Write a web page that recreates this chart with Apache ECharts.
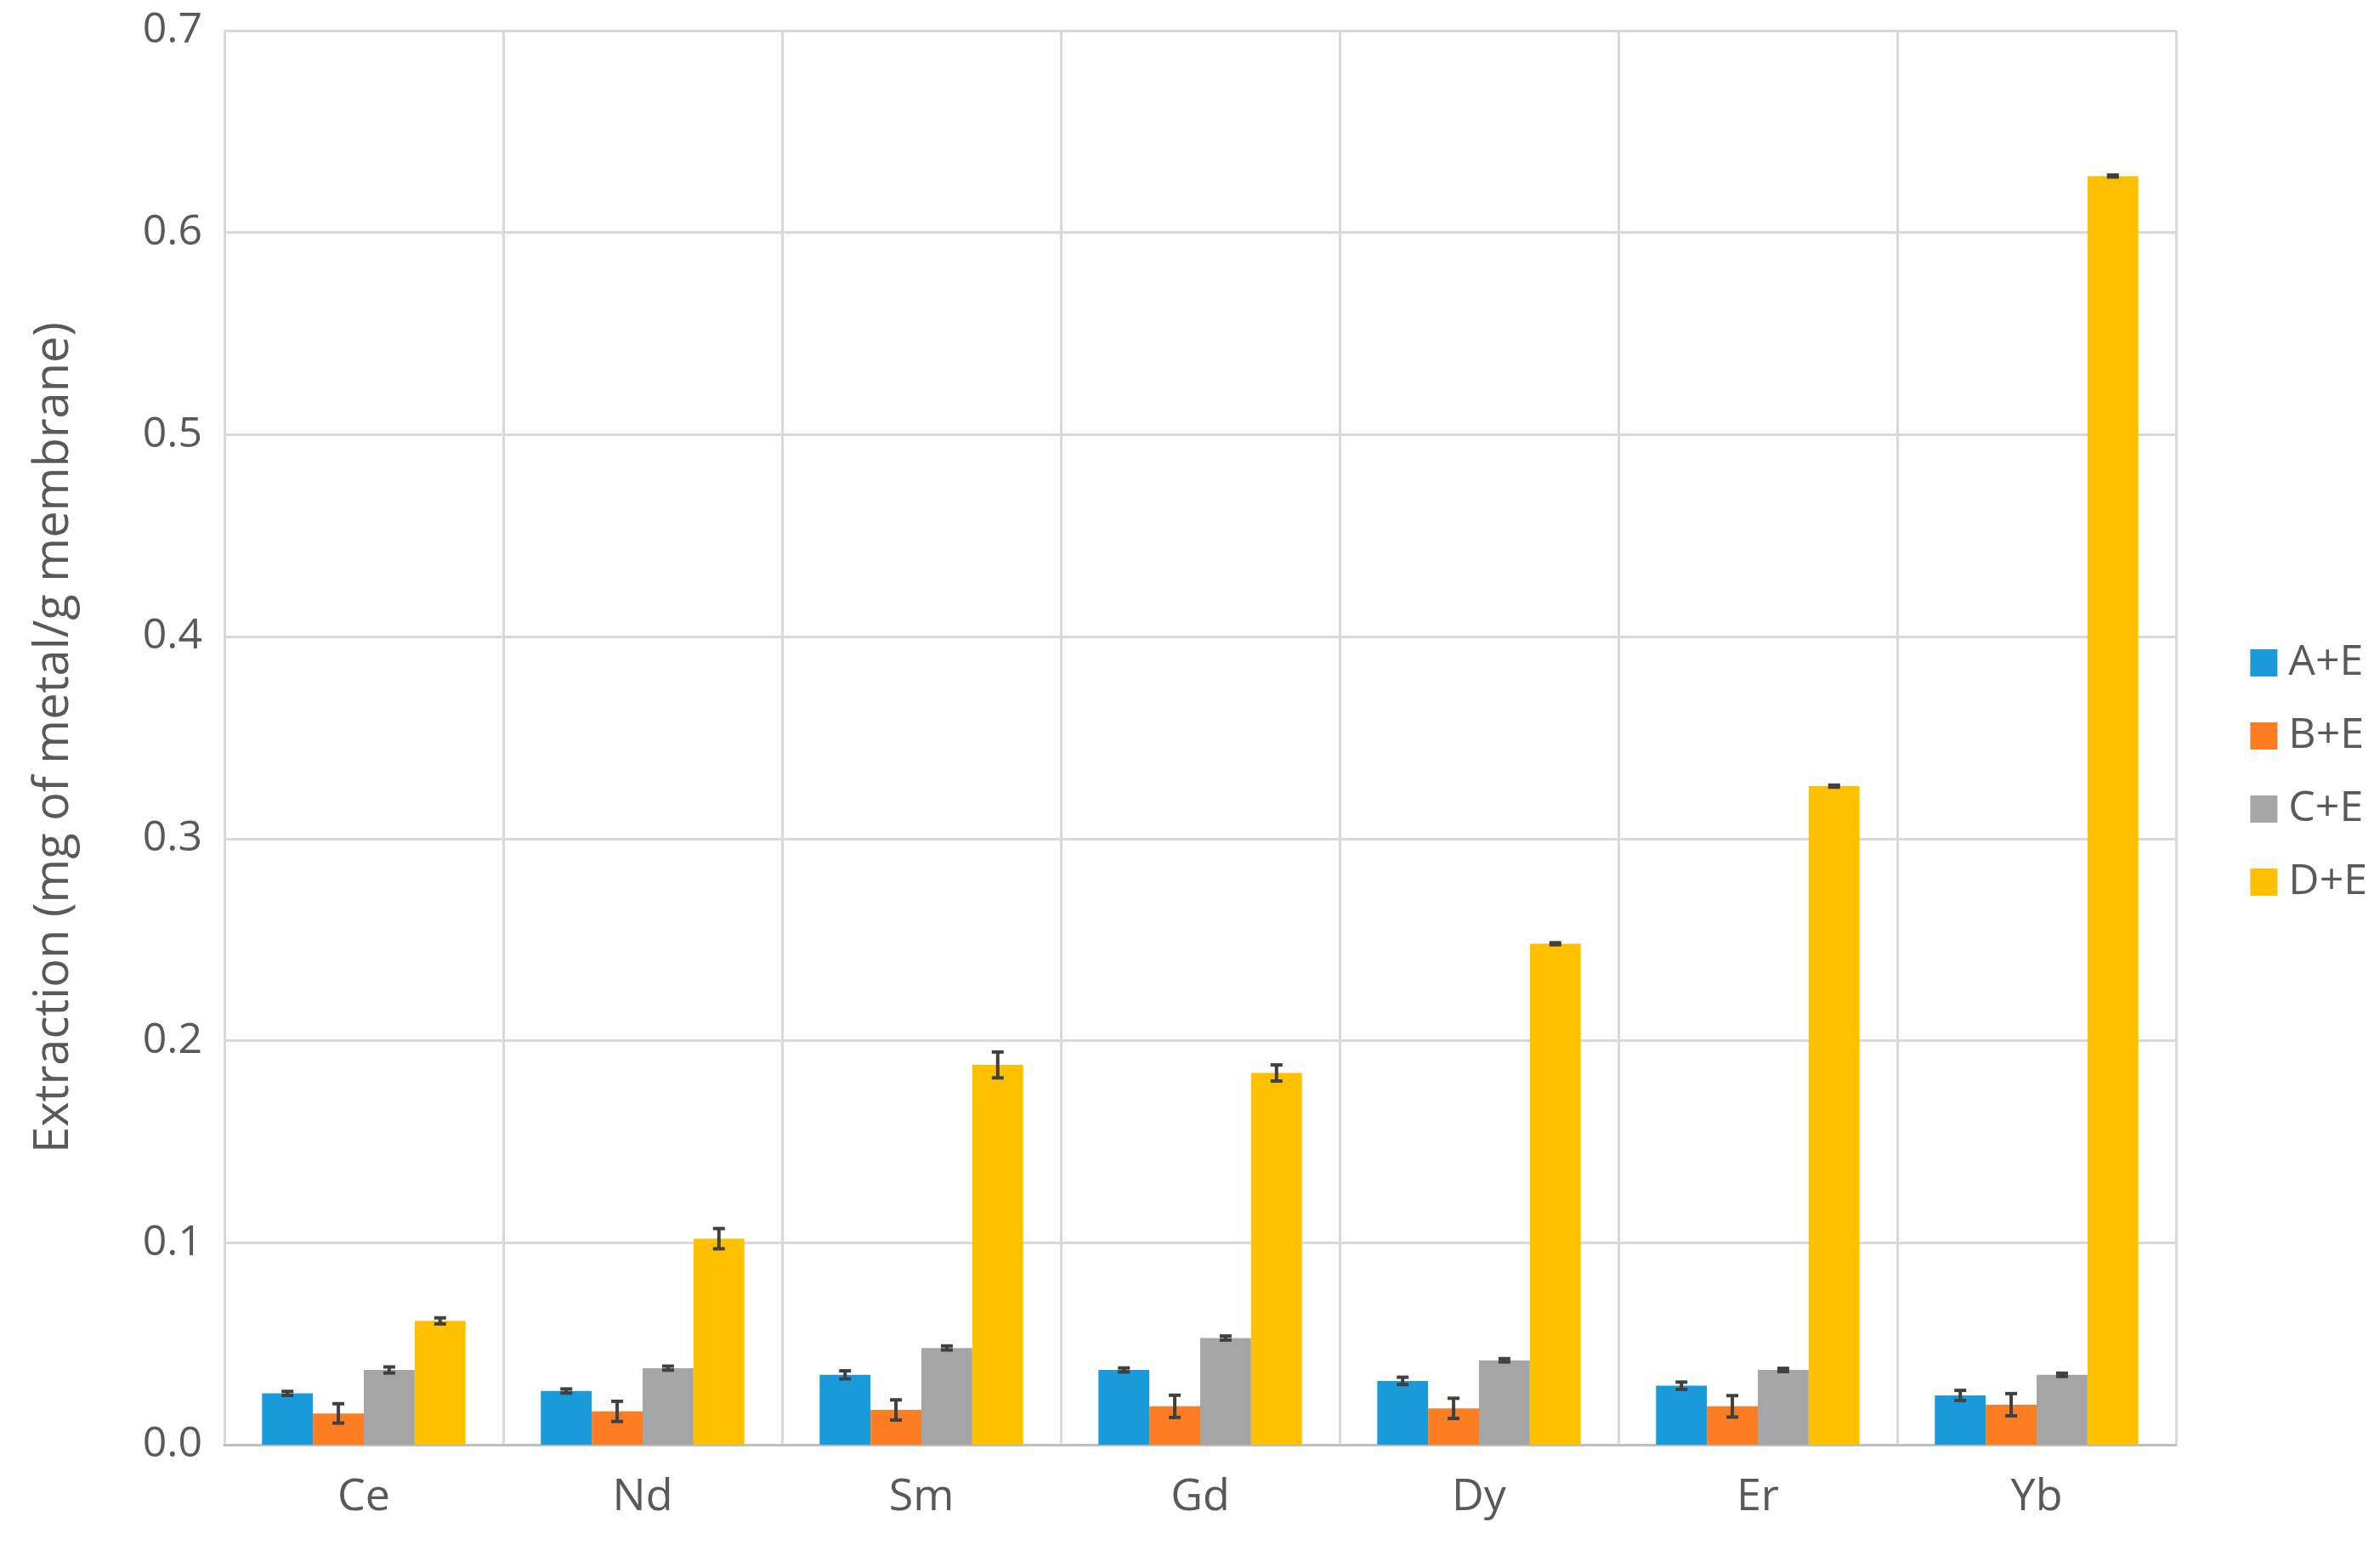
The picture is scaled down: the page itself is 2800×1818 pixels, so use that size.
<!DOCTYPE html>
<html>
<head>
<meta charset="utf-8">
<script src="https://cdn.jsdelivr.net/npm/echarts@6/dist/echarts.min.js"></script>
<style>
	html, body { margin: 0; padding: 0; background: #fff; }
	#chart { width: 2800px; height: 1818px; }
</style>
</head>
<body>
<div id="chart"></div>
<script>
'use strict'
var categories = ['Ce', 'Nd', 'Sm', 'Gd', 'Dy', 'Er', 'Yb'];
var seriesNames = ['A+E', 'B+E', 'C+E', 'D+E'];
var colors = ['#1a9ad9', '#fd7e22', '#a5a5a5', '#ffc000'];

var valuesA = [0.0254, 0.0266, 0.0346, 0.0370, 0.0316, 0.0292, 0.0244];
var valuesB = [0.0155, 0.0165, 0.0172, 0.0190, 0.0180, 0.0190, 0.0198];
var valuesC = [0.0370, 0.0379, 0.0479, 0.0528, 0.0418, 0.0370, 0.0346];
var valuesD = [0.0613, 0.1020, 0.1880, 0.1840, 0.2480, 0.3260, 0.6280];

var errA = [0.0010, 0.0010, 0.0020, 0.0010, 0.0018, 0.0018, 0.0025];
var errB = [0.0048, 0.0050, 0.0050, 0.0055, 0.0050, 0.0053, 0.0055];
var errC = [0.0015, 0.0010, 0.0010, 0.0010, 0.0008, 0.0008, 0.0008];
var errD = [0.0015, 0.0050, 0.0064, 0.0040, 0.0005, 0.0005, 0.0005];

var allValues = [valuesA, valuesB, valuesC, valuesD];
var allErrors = [errA, errB, errC, errD];
var categoryGap = 0.27;

var textColor = '#595959';
var fontFamily = 'Open Sans';

var series = [];
seriesNames.forEach(function (name, i) {
	series.push({
		name: name,
		type: 'bar',
		data: allValues[i],
		barGap: '0%',
		barCategoryGap: (categoryGap * 100) + '%',
		itemStyle: { color: colors[i] }
	});
});
seriesNames.forEach(function (name, i) {
	var errData = allValues[i].map(function (v, j) {
		return [j, v - allErrors[i][j], v + allErrors[i][j]];
	});
	series.push({
		type: 'custom',
		silent: true,
		z: 10,
		data: errData,
		renderItem: function (params, api) {
			var band = api.size([1, 0])[0];
			var barW = band * (1 - categoryGap) / 4;
			var offset = (i - 1.5) * barW;
			var lo = api.coord([api.value(0), api.value(1)]);
			var hi = api.coord([api.value(0), api.value(2)]);
			var x = lo[0] + offset;
			var cap = 7;
			var style = { stroke: '#404040', lineWidth: 4 };
			return {
				type: 'group',
				children: [
					{ type: 'line', shape: { x1: x, y1: lo[1], x2: x, y2: hi[1] }, style: style },
					{ type: 'line', shape: { x1: x - cap, y1: lo[1], x2: x + cap, y2: lo[1] }, style: style },
					{ type: 'line', shape: { x1: x - cap, y1: hi[1], x2: x + cap, y2: hi[1] }, style: style }
				]
			};
		}
	});
});

var chart = echarts.init(document.getElementById('chart'));
chart.setOption({
	animation: false,
	grid: {
		left: 264,
		right: 240,
		top: 36,
		bottom: 118
	},
	legend: {
		orient: 'vertical',
		right: 10,
		top: 'middle',
		data: seriesNames,
		icon: 'rect',
		itemWidth: 32,
		itemHeight: 32,
		itemGap: 36,
		textStyle: { fontSize: 50, color: textColor, fontFamily: fontFamily, padding: [0, 0, 0, 8] }
	},
	xAxis: {
		type: 'category',
		data: categories,
		axisTick: { show: false },
		axisLine: { lineStyle: { color: '#bfbfbf', width: 3 } },
		splitLine: { show: true, interval: 0, lineStyle: { color: '#d9d9d9', width: 3 } },
		axisLabel: { fontSize: 52, color: textColor, fontFamily: fontFamily, margin: 36 }
	},
	yAxis: {
		type: 'value',
		min: 0,
		max: 0.7,
		interval: 0.1,
		name: 'Extraction (mg of metal/g membrane)',
		nameLocation: 'middle',
		nameGap: 172,
		nameTextStyle: { fontSize: 56, color: textColor, fontFamily: fontFamily },
		axisLine: { show: true, lineStyle: { color: '#d9d9d9', width: 3 } },
		splitLine: { lineStyle: { color: '#d9d9d9', width: 3 } },
		axisLabel: {
			fontSize: 50, color: textColor, fontFamily: fontFamily, margin: 26,
			formatter: function (v) { return v.toFixed(1); }
		}
	},
	series: series
});
</script>
</body>
</html>
